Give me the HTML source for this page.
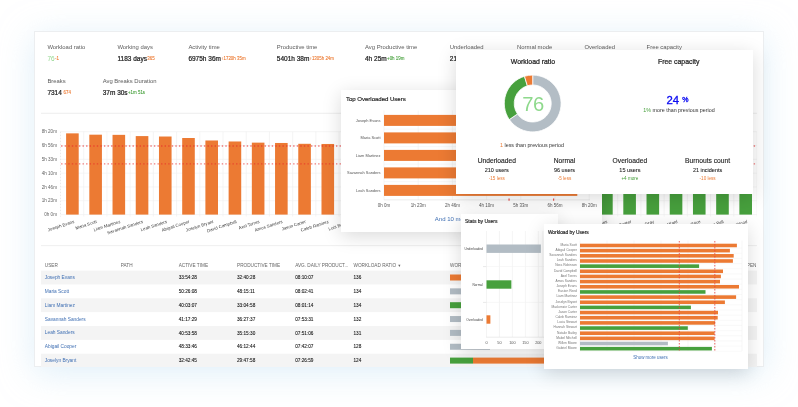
<!DOCTYPE html>
<html><head><meta charset="utf-8"><style>
*{margin:0;padding:0;box-sizing:border-box}
html,body{width:798px;height:407px;overflow:hidden;background:#fff}
body{position:relative;font-family:'Liberation Sans', Arial, sans-serif}
.t{position:absolute;white-space:nowrap}
.r{position:absolute}
.xl{font-size:4.4px;line-height:4.4px;color:#444;transform:rotate(-18deg);transform-origin:100% 0}
#panel{position:absolute;left:34px;top:31px;width:730px;height:336px;background:#fff;border:1px solid #eceef0;
  box-shadow:0 6px 32px rgba(196,226,244,0.55)}
.card{position:absolute;background:#fff;box-shadow:0 4px 18px rgba(0,0,0,0.15);overflow:hidden;will-change:transform}
.card .in{position:absolute}
</style></head><body>
<div id="panel"></div>
<div id="pc" style="position:absolute;left:0;top:0;width:798px;height:407px;clip-path:inset(31px 41px 40px 34px);will-change:transform">
<svg class="r" style="left:0;top:0" width="798" height="407" viewBox="0 0 798 407"><rect x="41.00" y="112.80" width="716.00" height="0.80" fill="#e8e8e8"/><line x1="60.50" y1="214.60" x2="757.00" y2="214.60" stroke="#efefef" stroke-width="0.6"/><line x1="60.50" y1="200.78" x2="757.00" y2="200.78" stroke="#efefef" stroke-width="0.6"/><line x1="60.50" y1="186.97" x2="757.00" y2="186.97" stroke="#efefef" stroke-width="0.6"/><line x1="60.50" y1="173.15" x2="757.00" y2="173.15" stroke="#efefef" stroke-width="0.6"/><line x1="60.50" y1="159.33" x2="757.00" y2="159.33" stroke="#efefef" stroke-width="0.6"/><line x1="60.50" y1="145.52" x2="757.00" y2="145.52" stroke="#efefef" stroke-width="0.6"/><line x1="60.50" y1="131.70" x2="757.00" y2="131.70" stroke="#efefef" stroke-width="0.6"/><line x1="83.72" y1="131.70" x2="83.72" y2="216.60" stroke="#efefef" stroke-width="0.6"/><line x1="106.93" y1="131.70" x2="106.93" y2="216.60" stroke="#efefef" stroke-width="0.6"/><line x1="130.15" y1="131.70" x2="130.15" y2="216.60" stroke="#efefef" stroke-width="0.6"/><line x1="153.37" y1="131.70" x2="153.37" y2="216.60" stroke="#efefef" stroke-width="0.6"/><line x1="176.58" y1="131.70" x2="176.58" y2="216.60" stroke="#efefef" stroke-width="0.6"/><line x1="199.80" y1="131.70" x2="199.80" y2="216.60" stroke="#efefef" stroke-width="0.6"/><line x1="223.02" y1="131.70" x2="223.02" y2="216.60" stroke="#efefef" stroke-width="0.6"/><line x1="246.24" y1="131.70" x2="246.24" y2="216.60" stroke="#efefef" stroke-width="0.6"/><line x1="269.45" y1="131.70" x2="269.45" y2="216.60" stroke="#efefef" stroke-width="0.6"/><line x1="292.67" y1="131.70" x2="292.67" y2="216.60" stroke="#efefef" stroke-width="0.6"/><line x1="315.89" y1="131.70" x2="315.89" y2="216.60" stroke="#efefef" stroke-width="0.6"/><line x1="339.10" y1="131.70" x2="339.10" y2="216.60" stroke="#efefef" stroke-width="0.6"/><line x1="362.32" y1="131.70" x2="362.32" y2="216.60" stroke="#efefef" stroke-width="0.6"/><line x1="385.54" y1="131.70" x2="385.54" y2="216.60" stroke="#efefef" stroke-width="0.6"/><line x1="408.75" y1="131.70" x2="408.75" y2="216.60" stroke="#efefef" stroke-width="0.6"/><line x1="431.97" y1="131.70" x2="431.97" y2="216.60" stroke="#efefef" stroke-width="0.6"/><line x1="455.19" y1="131.70" x2="455.19" y2="216.60" stroke="#efefef" stroke-width="0.6"/><line x1="478.41" y1="131.70" x2="478.41" y2="216.60" stroke="#efefef" stroke-width="0.6"/><line x1="501.62" y1="131.70" x2="501.62" y2="216.60" stroke="#efefef" stroke-width="0.6"/><line x1="524.84" y1="131.70" x2="524.84" y2="216.60" stroke="#efefef" stroke-width="0.6"/><line x1="548.06" y1="131.70" x2="548.06" y2="216.60" stroke="#efefef" stroke-width="0.6"/><line x1="571.27" y1="131.70" x2="571.27" y2="216.60" stroke="#efefef" stroke-width="0.6"/><line x1="594.49" y1="131.70" x2="594.49" y2="216.60" stroke="#efefef" stroke-width="0.6"/><line x1="617.71" y1="131.70" x2="617.71" y2="216.60" stroke="#efefef" stroke-width="0.6"/><line x1="640.92" y1="131.70" x2="640.92" y2="216.60" stroke="#efefef" stroke-width="0.6"/><line x1="664.14" y1="131.70" x2="664.14" y2="216.60" stroke="#efefef" stroke-width="0.6"/><line x1="687.36" y1="131.70" x2="687.36" y2="216.60" stroke="#efefef" stroke-width="0.6"/><line x1="710.58" y1="131.70" x2="710.58" y2="216.60" stroke="#efefef" stroke-width="0.6"/><line x1="733.79" y1="131.70" x2="733.79" y2="216.60" stroke="#efefef" stroke-width="0.6"/><line x1="757.01" y1="131.70" x2="757.01" y2="216.60" stroke="#efefef" stroke-width="0.6"/><line x1="60.50" y1="131.70" x2="60.50" y2="216.60" stroke="#dadada" stroke-width="0.6" stroke-dasharray="1.5 1.5"/><rect x="66.10" y="133.36" width="12.60" height="81.24" fill="#ec7a33"/><rect x="89.32" y="134.68" width="12.60" height="79.92" fill="#ec7a33"/><rect x="112.53" y="134.85" width="12.60" height="79.75" fill="#ec7a33"/><rect x="135.75" y="136.09" width="12.60" height="78.51" fill="#ec7a33"/><rect x="158.97" y="136.51" width="12.60" height="78.09" fill="#ec7a33"/><rect x="182.19" y="138.00" width="12.60" height="76.60" fill="#ec7a33"/><rect x="205.40" y="140.49" width="12.60" height="74.11" fill="#ec7a33"/><rect x="228.62" y="141.48" width="12.60" height="73.12" fill="#ec7a33"/><rect x="251.84" y="142.64" width="12.60" height="71.96" fill="#ec7a33"/><rect x="275.05" y="142.97" width="12.60" height="71.63" fill="#ec7a33"/><rect x="298.27" y="143.80" width="12.60" height="70.80" fill="#ec7a33"/><rect x="321.49" y="143.97" width="12.60" height="70.63" fill="#ec7a33"/><rect x="344.70" y="144.13" width="12.60" height="70.47" fill="#ec7a33"/><rect x="367.92" y="144.96" width="12.60" height="69.64" fill="#ec7a33"/><rect x="391.14" y="145.79" width="12.60" height="68.81" fill="#ec7a33"/><rect x="414.36" y="146.62" width="12.60" height="67.98" fill="#ec7a33"/><rect x="437.57" y="147.45" width="12.60" height="67.15" fill="#ec7a33"/><rect x="460.79" y="148.28" width="12.60" height="66.32" fill="#ec7a33"/><rect x="484.01" y="149.11" width="12.60" height="65.49" fill="#ec7a33"/><rect x="507.22" y="149.94" width="12.60" height="64.66" fill="#ec7a33"/><rect x="530.44" y="150.77" width="12.60" height="63.83" fill="#ec7a33"/><rect x="553.66" y="151.60" width="12.60" height="63.00" fill="#ec7a33"/><rect x="576.87" y="151.60" width="12.60" height="63.00" fill="#ec7a33"/><rect x="600.09" y="151.60" width="12.60" height="63.00" fill="#47a03d"/><rect x="623.31" y="151.60" width="12.60" height="63.00" fill="#47a03d"/><rect x="646.52" y="151.60" width="12.60" height="63.00" fill="#47a03d"/><rect x="669.74" y="151.60" width="12.60" height="63.00" fill="#47a03d"/><rect x="692.96" y="151.60" width="12.60" height="63.00" fill="#47a03d"/><rect x="716.18" y="151.60" width="12.60" height="63.00" fill="#47a03d"/><rect x="739.39" y="151.60" width="12.60" height="63.00" fill="#47a03d"/><line x1="61.10" y1="146.00" x2="758.00" y2="146.00" stroke="rgba(232,40,40,0.62)" stroke-width="1.4" stroke-dasharray="1.4 2.17"/><line x1="61.10" y1="163.90" x2="758.00" y2="163.90" stroke="rgba(232,40,40,0.62)" stroke-width="1.4" stroke-dasharray="1.4 2.17"/><rect x="41.00" y="245.30" width="716.00" height="0.80" fill="#ececec"/><rect x="41.00" y="270.60" width="716.00" height="13.85" fill="#f4f4f4"/><rect x="450.00" y="274.50" width="40.00" height="6.00" fill="#ec7a33"/><rect x="450.00" y="288.35" width="40.00" height="6.00" fill="#b2bcc4"/><rect x="41.00" y="298.30" width="716.00" height="13.85" fill="#f4f4f4"/><rect x="450.00" y="302.20" width="40.00" height="6.00" fill="#47a03d"/><rect x="450.00" y="316.05" width="40.00" height="6.00" fill="#b2bcc4"/><rect x="41.00" y="326.00" width="716.00" height="13.85" fill="#f4f4f4"/><rect x="450.00" y="329.90" width="40.00" height="6.00" fill="#b2bcc4"/><rect x="450.00" y="343.75" width="40.00" height="6.00" fill="#b2bcc4"/><rect x="41.00" y="353.70" width="716.00" height="13.85" fill="#f4f4f4"/><rect x="450.00" y="357.60" width="23.00" height="6.00" fill="#47a03d"/><rect x="473.00" y="357.60" width="260.00" height="6.00" fill="#ec7a33"/></svg><div class="t" style="top:45.21px;font-size:5.9px;line-height:5.9px;color:#5b5b5b;font-weight:normal;left:47.40px;">Workload ratio</div><div class="t" style="top:45.21px;font-size:5.9px;line-height:5.9px;color:#5b5b5b;font-weight:normal;left:117.40px;">Working days</div><div class="t" style="top:45.21px;font-size:5.9px;line-height:5.9px;color:#5b5b5b;font-weight:normal;left:188.40px;">Activity time</div><div class="t" style="top:45.21px;font-size:5.9px;line-height:5.9px;color:#5b5b5b;font-weight:normal;left:276.80px;">Productive time</div><div class="t" style="top:45.21px;font-size:5.9px;line-height:5.9px;color:#5b5b5b;font-weight:normal;left:365.00px;">Avg Productive time</div><div class="t" style="top:45.21px;font-size:5.9px;line-height:5.9px;color:#5b5b5b;font-weight:normal;left:449.80px;">Underloaded</div><div class="t" style="top:45.21px;font-size:5.9px;line-height:5.9px;color:#5b5b5b;font-weight:normal;left:517.00px;">Normal mode</div><div class="t" style="top:45.21px;font-size:5.9px;line-height:5.9px;color:#5b5b5b;font-weight:normal;left:584.50px;">Overloaded</div><div class="t" style="top:45.21px;font-size:5.9px;line-height:5.9px;color:#5b5b5b;font-weight:normal;left:646.60px;">Free capacity</div><div class="t" style="top:56.00px;font-size:6.5px;line-height:6.5px;color:#222;font-weight:normal;-webkit-text-stroke:0.22px currentColor;left:47.40px;"><span style="color:#93d68f;-webkit-text-stroke:0">76</span><span style="font-size:0.68em;font-weight:normal;-webkit-text-stroke:0.1px currentColor;color:#ec7a33;vertical-align:0.22em;margin-left:0.4px">-1</span></div><div class="t" style="top:56.00px;font-size:6.5px;line-height:6.5px;color:#222;font-weight:normal;-webkit-text-stroke:0.22px currentColor;left:117.40px;">1183 days<span style="font-size:0.68em;font-weight:normal;-webkit-text-stroke:0.1px currentColor;color:#ec7a33;vertical-align:0.22em;margin-left:0.4px">365</span></div><div class="t" style="top:56.00px;font-size:6.5px;line-height:6.5px;color:#222;font-weight:normal;-webkit-text-stroke:0.22px currentColor;left:188.40px;">6975h 36m<span style="font-size:0.68em;font-weight:normal;-webkit-text-stroke:0.1px currentColor;color:#ec7a33;vertical-align:0.22em;margin-left:0.4px">↑1720h 35m</span></div><div class="t" style="top:56.00px;font-size:6.5px;line-height:6.5px;color:#222;font-weight:normal;-webkit-text-stroke:0.22px currentColor;left:276.80px;">5401h 38m<span style="font-size:0.68em;font-weight:normal;-webkit-text-stroke:0.1px currentColor;color:#ec7a33;vertical-align:0.22em;margin-left:0.4px">↑1305h 24m</span></div><div class="t" style="top:56.00px;font-size:6.5px;line-height:6.5px;color:#222;font-weight:normal;-webkit-text-stroke:0.22px currentColor;left:365.00px;">4h 25m<span style="font-size:0.68em;font-weight:normal;-webkit-text-stroke:0.1px currentColor;color:#47a03d;vertical-align:0.22em;margin-left:0.4px">+0h 19m</span></div><div class="t" style="top:56.00px;font-size:6.5px;line-height:6.5px;color:#222;font-weight:normal;-webkit-text-stroke:0.22px currentColor;left:449.80px;">210 users</div><div class="t" style="top:56.00px;font-size:6.5px;line-height:6.5px;color:#222;font-weight:normal;-webkit-text-stroke:0.22px currentColor;left:517.00px;">96 users</div><div class="t" style="top:56.00px;font-size:6.5px;line-height:6.5px;color:#222;font-weight:normal;-webkit-text-stroke:0.22px currentColor;left:584.50px;">15 users</div><div class="t" style="top:56.00px;font-size:6.5px;line-height:6.5px;color:#222;font-weight:normal;-webkit-text-stroke:0.22px currentColor;left:646.60px;">24%</div><div class="t" style="top:78.61px;font-size:5.9px;line-height:5.9px;color:#5b5b5b;font-weight:normal;left:47.40px;">Breaks</div><div class="t" style="top:78.61px;font-size:5.9px;line-height:5.9px;color:#5b5b5b;font-weight:normal;left:102.70px;">Avg Breaks Duration</div><div class="t" style="top:90.00px;font-size:6.5px;line-height:6.5px;color:#222;font-weight:normal;-webkit-text-stroke:0.22px currentColor;left:47.40px;">7314&thinsp;<span style="font-size:0.68em;font-weight:normal;-webkit-text-stroke:0.1px currentColor;color:#ec7a33;vertical-align:0.22em;margin-left:0.4px">674</span></div><div class="t" style="top:90.00px;font-size:6.5px;line-height:6.5px;color:#222;font-weight:normal;-webkit-text-stroke:0.22px currentColor;left:102.70px;">37m 30s<span style="font-size:0.68em;font-weight:normal;-webkit-text-stroke:0.1px currentColor;color:#47a03d;vertical-align:0.22em;margin-left:0.4px">+1m 51s</span></div><div class="t" style="top:213.21px;font-size:4.6px;line-height:4.6px;color:#666;font-weight:normal;right:741.00px;text-align:right;">0h 0m</div><div class="t" style="top:199.39px;font-size:4.6px;line-height:4.6px;color:#666;font-weight:normal;right:741.00px;text-align:right;">1h 23m</div><div class="t" style="top:185.57px;font-size:4.6px;line-height:4.6px;color:#666;font-weight:normal;right:741.00px;text-align:right;">2h 46m</div><div class="t" style="top:171.76px;font-size:4.6px;line-height:4.6px;color:#666;font-weight:normal;right:741.00px;text-align:right;">4h 10m</div><div class="t" style="top:157.94px;font-size:4.6px;line-height:4.6px;color:#666;font-weight:normal;right:741.00px;text-align:right;">5h 33m</div><div class="t" style="top:144.12px;font-size:4.6px;line-height:4.6px;color:#666;font-weight:normal;right:741.00px;text-align:right;">6h 56m</div><div class="t" style="top:130.31px;font-size:4.6px;line-height:4.6px;color:#666;font-weight:normal;right:741.00px;text-align:right;">8h 20m</div><div class="t xl" style="right:724.90px;top:220.0px;">Joseph Evans</div><div class="t xl" style="right:701.68px;top:220.0px;">Maria Scott</div><div class="t xl" style="right:678.47px;top:220.0px;">Liam Martinez</div><div class="t xl" style="right:655.25px;top:220.0px;">Savannah Sanders</div><div class="t xl" style="right:632.03px;top:220.0px;">Leah Sanders</div><div class="t xl" style="right:608.81px;top:220.0px;">Abigail Cooper</div><div class="t xl" style="right:585.60px;top:220.0px;">Joselyn Bryant</div><div class="t xl" style="right:562.38px;top:220.0px;">David Campbell</div><div class="t xl" style="right:539.16px;top:220.0px;">Axel Torres</div><div class="t xl" style="right:515.95px;top:220.0px;">Amos Sanders</div><div class="t xl" style="right:492.73px;top:220.0px;">Jason Carter</div><div class="t xl" style="right:469.51px;top:220.0px;">Caleb Ramirez</div><div class="t xl" style="right:446.30px;top:220.0px;">Luis Bennett</div><div class="t xl" style="right:423.08px;top:220.0px;">Lucia Stewart</div><div class="t xl" style="right:399.86px;top:220.0px;">Natalie Bailey</div><div class="t xl" style="right:376.64px;top:220.0px;">Mabel Mitchell</div><div class="t xl" style="right:353.43px;top:220.0px;">Gabriel Moore</div><div class="t xl" style="right:330.21px;top:220.0px;">Nora Robinson</div><div class="t xl" style="right:306.99px;top:220.0px;">Easton Reed</div><div class="t xl" style="right:283.78px;top:220.0px;">Mackenzie Carter</div><div class="t xl" style="right:260.56px;top:220.0px;">Hannah Stewart</div><div class="t xl" style="right:237.34px;top:220.0px;">Willen Moore</div><div class="t xl" style="right:214.13px;top:220.0px;">Owen Parker</div><div class="t xl" style="right:190.91px;top:220.0px;">Ella Hughes</div><div class="t xl" style="right:167.69px;top:220.0px;">Mia Foster</div><div class="t xl" style="right:144.48px;top:220.0px;">Lucas Gray</div><div class="t xl" style="right:121.26px;top:220.0px;">Chloe Ward</div><div class="t xl" style="right:98.04px;top:220.0px;">Henry Price</div><div class="t xl" style="right:74.82px;top:220.0px;">Ava Bell</div><div class="t xl" style="right:51.61px;top:220.0px;">Jack Wood</div><div class="t" style="top:263.62px;font-size:4.7px;line-height:4.7px;color:#666;font-weight:normal;right:41.50px;text-align:right;">OPEN</div><div class="t" style="top:263.62px;font-size:4.7px;line-height:4.7px;color:#666;font-weight:normal;left:44.80px;">USER</div><div class="t" style="top:263.62px;font-size:4.7px;line-height:4.7px;color:#666;font-weight:normal;left:120.80px;">PATH</div><div class="t" style="top:263.62px;font-size:4.7px;line-height:4.7px;color:#666;font-weight:normal;left:178.70px;">ACTIVE TIME</div><div class="t" style="top:263.62px;font-size:4.7px;line-height:4.7px;color:#666;font-weight:normal;left:237.00px;">PRODUCTIVE TIME</div><div class="t" style="top:263.62px;font-size:4.7px;line-height:4.7px;color:#666;font-weight:normal;left:295.20px;">AVG. DAILY PRODUCT...</div><div class="t" style="top:263.62px;font-size:4.7px;line-height:4.7px;color:#666;font-weight:normal;left:353.50px;">WORKLOAD RATIO <span style="font-size:0.8em">▼</span></div><div class="t" style="top:263.62px;font-size:4.7px;line-height:4.7px;color:#666;font-weight:normal;left:450.00px;">WORKLOAD</div><div class="t" style="top:276.06px;font-size:4.8px;line-height:4.8px;color:#3f6fb3;font-weight:normal;left:44.80px;">Joseph Evans</div><div class="t" style="top:276.15px;font-size:4.7px;line-height:4.7px;color:#111;font-weight:normal;-webkit-text-stroke:0.08px currentColor;left:178.70px;">33:54:28</div><div class="t" style="top:276.15px;font-size:4.7px;line-height:4.7px;color:#111;font-weight:normal;-webkit-text-stroke:0.08px currentColor;left:237.00px;">32:40:28</div><div class="t" style="top:276.15px;font-size:4.7px;line-height:4.7px;color:#111;font-weight:normal;-webkit-text-stroke:0.08px currentColor;left:295.20px;">08:10:07</div><div class="t" style="top:276.15px;font-size:4.7px;line-height:4.7px;color:#111;font-weight:normal;-webkit-text-stroke:0.08px currentColor;left:353.50px;">136</div><div class="t" style="top:289.91px;font-size:4.8px;line-height:4.8px;color:#3f6fb3;font-weight:normal;left:44.80px;">Maria Scott</div><div class="t" style="top:290.00px;font-size:4.7px;line-height:4.7px;color:#111;font-weight:normal;-webkit-text-stroke:0.08px currentColor;left:178.70px;">50:26:08</div><div class="t" style="top:290.00px;font-size:4.7px;line-height:4.7px;color:#111;font-weight:normal;-webkit-text-stroke:0.08px currentColor;left:237.00px;">48:15:11</div><div class="t" style="top:290.00px;font-size:4.7px;line-height:4.7px;color:#111;font-weight:normal;-webkit-text-stroke:0.08px currentColor;left:295.20px;">08:02:41</div><div class="t" style="top:290.00px;font-size:4.7px;line-height:4.7px;color:#111;font-weight:normal;-webkit-text-stroke:0.08px currentColor;left:353.50px;">134</div><div class="t" style="top:303.76px;font-size:4.8px;line-height:4.8px;color:#3f6fb3;font-weight:normal;left:44.80px;">Liam Martinez</div><div class="t" style="top:303.85px;font-size:4.7px;line-height:4.7px;color:#111;font-weight:normal;-webkit-text-stroke:0.08px currentColor;left:178.70px;">40:03:07</div><div class="t" style="top:303.85px;font-size:4.7px;line-height:4.7px;color:#111;font-weight:normal;-webkit-text-stroke:0.08px currentColor;left:237.00px;">33:04:58</div><div class="t" style="top:303.85px;font-size:4.7px;line-height:4.7px;color:#111;font-weight:normal;-webkit-text-stroke:0.08px currentColor;left:295.20px;">08:01:14</div><div class="t" style="top:303.85px;font-size:4.7px;line-height:4.7px;color:#111;font-weight:normal;-webkit-text-stroke:0.08px currentColor;left:353.50px;">134</div><div class="t" style="top:317.61px;font-size:4.8px;line-height:4.8px;color:#3f6fb3;font-weight:normal;left:44.80px;">Savannah Sanders</div><div class="t" style="top:317.70px;font-size:4.7px;line-height:4.7px;color:#111;font-weight:normal;-webkit-text-stroke:0.08px currentColor;left:178.70px;">41:17:29</div><div class="t" style="top:317.70px;font-size:4.7px;line-height:4.7px;color:#111;font-weight:normal;-webkit-text-stroke:0.08px currentColor;left:237.00px;">36:27:37</div><div class="t" style="top:317.70px;font-size:4.7px;line-height:4.7px;color:#111;font-weight:normal;-webkit-text-stroke:0.08px currentColor;left:295.20px;">07:53:31</div><div class="t" style="top:317.70px;font-size:4.7px;line-height:4.7px;color:#111;font-weight:normal;-webkit-text-stroke:0.08px currentColor;left:353.50px;">132</div><div class="t" style="top:331.46px;font-size:4.8px;line-height:4.8px;color:#3f6fb3;font-weight:normal;left:44.80px;">Leah Sanders</div><div class="t" style="top:331.55px;font-size:4.7px;line-height:4.7px;color:#111;font-weight:normal;-webkit-text-stroke:0.08px currentColor;left:178.70px;">40:53:58</div><div class="t" style="top:331.55px;font-size:4.7px;line-height:4.7px;color:#111;font-weight:normal;-webkit-text-stroke:0.08px currentColor;left:237.00px;">35:15:30</div><div class="t" style="top:331.55px;font-size:4.7px;line-height:4.7px;color:#111;font-weight:normal;-webkit-text-stroke:0.08px currentColor;left:295.20px;">07:51:06</div><div class="t" style="top:331.55px;font-size:4.7px;line-height:4.7px;color:#111;font-weight:normal;-webkit-text-stroke:0.08px currentColor;left:353.50px;">131</div><div class="t" style="top:345.31px;font-size:4.8px;line-height:4.8px;color:#3f6fb3;font-weight:normal;left:44.80px;">Abigail Cooper</div><div class="t" style="top:345.40px;font-size:4.7px;line-height:4.7px;color:#111;font-weight:normal;-webkit-text-stroke:0.08px currentColor;left:178.70px;">48:33:46</div><div class="t" style="top:345.40px;font-size:4.7px;line-height:4.7px;color:#111;font-weight:normal;-webkit-text-stroke:0.08px currentColor;left:237.00px;">46:12:44</div><div class="t" style="top:345.40px;font-size:4.7px;line-height:4.7px;color:#111;font-weight:normal;-webkit-text-stroke:0.08px currentColor;left:295.20px;">07:42:07</div><div class="t" style="top:345.40px;font-size:4.7px;line-height:4.7px;color:#111;font-weight:normal;-webkit-text-stroke:0.08px currentColor;left:353.50px;">128</div><div class="t" style="top:359.16px;font-size:4.8px;line-height:4.8px;color:#3f6fb3;font-weight:normal;left:44.80px;">Joselyn Bryant</div><div class="t" style="top:359.25px;font-size:4.7px;line-height:4.7px;color:#111;font-weight:normal;-webkit-text-stroke:0.08px currentColor;left:178.70px;">32:42:45</div><div class="t" style="top:359.25px;font-size:4.7px;line-height:4.7px;color:#111;font-weight:normal;-webkit-text-stroke:0.08px currentColor;left:237.00px;">29:47:58</div><div class="t" style="top:359.25px;font-size:4.7px;line-height:4.7px;color:#111;font-weight:normal;-webkit-text-stroke:0.08px currentColor;left:295.20px;">07:26:59</div><div class="t" style="top:359.25px;font-size:4.7px;line-height:4.7px;color:#111;font-weight:normal;-webkit-text-stroke:0.08px currentColor;left:353.50px;">124</div>
</div>
<div class="card" style="left:341px;top:90px;width:261px;height:142px"><div class="in" style="left:-341px;top:-90px;width:798px;height:407px"><svg class="r" style="left:0;top:0" width="798" height="407" viewBox="0 0 798 407"><line x1="384.00" y1="110.50" x2="384.00" y2="200.00" stroke="#eeeeee" stroke-width="0.6"/><line x1="418.20" y1="110.50" x2="418.20" y2="200.00" stroke="#eeeeee" stroke-width="0.6"/><line x1="452.40" y1="110.50" x2="452.40" y2="200.00" stroke="#eeeeee" stroke-width="0.6"/><line x1="486.60" y1="110.50" x2="486.60" y2="200.00" stroke="#eeeeee" stroke-width="0.6"/><line x1="520.80" y1="110.50" x2="520.80" y2="200.00" stroke="#eeeeee" stroke-width="0.6"/><line x1="555.00" y1="110.50" x2="555.00" y2="200.00" stroke="#eeeeee" stroke-width="0.6"/><line x1="589.20" y1="110.50" x2="589.20" y2="200.00" stroke="#eeeeee" stroke-width="0.6"/><line x1="384.00" y1="199.90" x2="590.00" y2="199.90" stroke="#dddddd" stroke-width="0.6"/><rect x="384.00" y="114.90" width="201.10" height="11.00" fill="#ec7a33"/><line x1="384.00" y1="129.15" x2="590.00" y2="129.15" stroke="#eeeeee" stroke-width="0.5"/><rect x="384.00" y="132.40" width="197.81" height="11.00" fill="#ec7a33"/><line x1="384.00" y1="146.65" x2="590.00" y2="146.65" stroke="#eeeeee" stroke-width="0.5"/><rect x="384.00" y="149.90" width="197.40" height="11.00" fill="#ec7a33"/><line x1="384.00" y1="164.15" x2="590.00" y2="164.15" stroke="#eeeeee" stroke-width="0.5"/><rect x="384.00" y="167.40" width="194.32" height="11.00" fill="#ec7a33"/><line x1="384.00" y1="181.65" x2="590.00" y2="181.65" stroke="#eeeeee" stroke-width="0.5"/><rect x="384.00" y="184.90" width="193.30" height="11.00" fill="#ec7a33"/><rect x="508.50" y="198.50" width="1.10" height="2.20" fill="#e8413c"/><rect x="553.10" y="198.50" width="1.10" height="2.20" fill="#e8413c"/></svg><div class="t" style="top:96.34px;font-size:6.1px;line-height:6.1px;color:#222;font-weight:normal;-webkit-text-stroke:0.16px currentColor;letter-spacing:-0.05px;left:346.00px;">Top Overloaded Users</div><div class="t" style="top:204.19px;font-size:4.5px;line-height:4.5px;color:#555;font-weight:normal;left:84.00px;width:600px;text-align:center;">0h 0m</div><div class="t" style="top:204.19px;font-size:4.5px;line-height:4.5px;color:#555;font-weight:normal;left:118.20px;width:600px;text-align:center;">1h 23m</div><div class="t" style="top:204.19px;font-size:4.5px;line-height:4.5px;color:#555;font-weight:normal;left:152.40px;width:600px;text-align:center;">2h 46m</div><div class="t" style="top:204.19px;font-size:4.5px;line-height:4.5px;color:#555;font-weight:normal;left:186.60px;width:600px;text-align:center;">4h 10m</div><div class="t" style="top:204.19px;font-size:4.5px;line-height:4.5px;color:#555;font-weight:normal;left:220.80px;width:600px;text-align:center;">5h 33m</div><div class="t" style="top:204.19px;font-size:4.5px;line-height:4.5px;color:#555;font-weight:normal;left:255.00px;width:600px;text-align:center;">6h 56m</div><div class="t" style="top:204.19px;font-size:4.5px;line-height:4.5px;color:#555;font-weight:normal;left:289.20px;width:600px;text-align:center;">8h 20m</div><div class="t" style="top:118.66px;font-size:3.95px;line-height:3.95px;color:#555;font-weight:normal;right:417.50px;text-align:right;">Joseph Evans</div><div class="t" style="top:136.16px;font-size:3.95px;line-height:3.95px;color:#555;font-weight:normal;right:417.50px;text-align:right;">Maria Scott</div><div class="t" style="top:153.66px;font-size:3.95px;line-height:3.95px;color:#555;font-weight:normal;right:417.50px;text-align:right;">Liam Martinez</div><div class="t" style="top:171.16px;font-size:3.95px;line-height:3.95px;color:#555;font-weight:normal;right:417.50px;text-align:right;">Savannah Sanders</div><div class="t" style="top:188.66px;font-size:3.95px;line-height:3.95px;color:#555;font-weight:normal;right:417.50px;text-align:right;">Leah Sanders</div><div class="t" style="top:215.52px;font-size:6.0px;line-height:6.0px;color:#3f6fb3;font-weight:normal;left:152.00px;width:600px;text-align:center;">And 10 more</div></div></div>
<div class="card" style="left:456px;top:50px;width:297px;height:144px"><div class="in" style="left:-456px;top:-50px;width:798px;height:407px"><svg class="r" style="left:0;top:0" width="798" height="407" viewBox="0 0 798 407"><path d="M532.70,75.10 A28.4,28.4 0 1 1 509.29,119.59 L517.45,113.98 A18.5,18.5 0 1 0 532.70,85.00 Z" fill="#b3bdc5" stroke="#fff" stroke-width="0.8"/><path d="M509.29,119.59 A28.4,28.4 0 0 1 524.49,76.31 L527.35,85.79 A18.5,18.5 0 0 0 517.45,113.98 Z" fill="#47a03d" stroke="#fff" stroke-width="0.8"/><path d="M524.49,76.31 A28.4,28.4 0 0 1 532.70,75.10 L532.70,85.00 A18.5,18.5 0 0 0 527.35,85.79 Z" fill="#ec7a33" stroke="#fff" stroke-width="0.8"/></svg><div class="t" style="top:59.16px;font-size:6.9px;line-height:6.9px;color:#222;font-weight:normal;-webkit-text-stroke:0.22px currentColor;left:233.00px;width:600px;text-align:center;">Workload ratio</div><div class="t" style="top:59.16px;font-size:6.9px;line-height:6.9px;color:#222;font-weight:normal;-webkit-text-stroke:0.22px currentColor;left:378.70px;width:600px;text-align:center;">Free capacity</div><div class="t" style="top:93.50px;font-size:20.2px;line-height:20.2px;color:#8ed98c;font-weight:normal;letter-spacing:-0.4px;left:233.10px;width:600px;text-align:center;">76</div><div class="t" style="top:142.97px;font-size:5.35px;line-height:5.35px;color:#333;font-weight:normal;left:232.00px;width:600px;text-align:center;"><span style="color:#ec7a33">1</span> less than previous period</div><div class="t" style="top:94.33px;font-size:11.3px;line-height:11.3px;color:#0d0df2;font-weight:normal;-webkit-text-stroke:0.35px currentColor;left:377.50px;width:600px;text-align:center;">24 <span style="font-size:0.62em;vertical-align:0.3em">%</span></div><div class="t" style="top:108.07px;font-size:5.35px;line-height:5.35px;color:#333;font-weight:normal;left:379.00px;width:600px;text-align:center;"><span style="color:#47a03d">1%</span> more than previous period</div><div class="t" style="top:158.33px;font-size:6.7px;line-height:6.7px;color:#222;font-weight:normal;-webkit-text-stroke:0.12px currentColor;left:196.80px;width:600px;text-align:center;">Underloaded</div><div class="t" style="top:167.74px;font-size:5.5px;line-height:5.5px;color:#222;font-weight:normal;-webkit-text-stroke:0.08px currentColor;left:196.80px;width:600px;text-align:center;">210 users</div><div class="t" style="top:176.91px;font-size:4.6px;line-height:4.6px;color:#ec7a33;font-weight:normal;left:196.80px;width:600px;text-align:center;">-15 less</div><div class="t" style="top:158.33px;font-size:6.7px;line-height:6.7px;color:#222;font-weight:normal;-webkit-text-stroke:0.12px currentColor;left:264.50px;width:600px;text-align:center;">Normal</div><div class="t" style="top:167.74px;font-size:5.5px;line-height:5.5px;color:#222;font-weight:normal;-webkit-text-stroke:0.08px currentColor;left:264.50px;width:600px;text-align:center;">96 users</div><div class="t" style="top:176.91px;font-size:4.6px;line-height:4.6px;color:#ec7a33;font-weight:normal;left:264.50px;width:600px;text-align:center;">-5 less</div><div class="t" style="top:158.33px;font-size:6.7px;line-height:6.7px;color:#222;font-weight:normal;-webkit-text-stroke:0.12px currentColor;left:329.90px;width:600px;text-align:center;">Overloaded</div><div class="t" style="top:167.74px;font-size:5.5px;line-height:5.5px;color:#222;font-weight:normal;-webkit-text-stroke:0.08px currentColor;left:329.90px;width:600px;text-align:center;">15 users</div><div class="t" style="top:176.91px;font-size:4.6px;line-height:4.6px;color:#47a03d;font-weight:normal;left:329.90px;width:600px;text-align:center;">+4 more</div><div class="t" style="top:158.33px;font-size:6.7px;line-height:6.7px;color:#222;font-weight:normal;-webkit-text-stroke:0.12px currentColor;left:407.60px;width:600px;text-align:center;">Burnouts count</div><div class="t" style="top:167.74px;font-size:5.5px;line-height:5.5px;color:#222;font-weight:normal;-webkit-text-stroke:0.08px currentColor;left:407.60px;width:600px;text-align:center;">21 incidents</div><div class="t" style="top:176.91px;font-size:4.6px;line-height:4.6px;color:#ec7a33;font-weight:normal;left:407.60px;width:600px;text-align:center;">-10 less</div></div></div>
<div class="card" style="left:461px;top:214px;width:97px;height:135px"><div class="in" style="left:-461px;top:-214px;width:798px;height:407px"><svg class="r" style="left:0;top:0" width="798" height="407" viewBox="0 0 798 407"><line x1="486.50" y1="231.00" x2="486.50" y2="337.00" stroke="#ececec" stroke-width="0.6"/><line x1="499.45" y1="231.00" x2="499.45" y2="337.00" stroke="#ececec" stroke-width="0.6"/><line x1="512.40" y1="231.00" x2="512.40" y2="337.00" stroke="#ececec" stroke-width="0.6"/><line x1="525.35" y1="231.00" x2="525.35" y2="337.00" stroke="#ececec" stroke-width="0.6"/><line x1="538.30" y1="231.00" x2="538.30" y2="337.00" stroke="#ececec" stroke-width="0.6"/><line x1="486.00" y1="337.20" x2="556.00" y2="337.20" stroke="#e0e0e0" stroke-width="0.6"/><line x1="542.80" y1="231.00" x2="542.80" y2="337.00" stroke="#ececec" stroke-width="0.6"/><line x1="483.00" y1="266.60" x2="486.50" y2="266.60" stroke="#d8d8d8" stroke-width="0.6"/><line x1="486.50" y1="266.60" x2="558.00" y2="266.60" stroke="#f1f1f1" stroke-width="0.6"/><line x1="483.00" y1="302.40" x2="486.50" y2="302.40" stroke="#d8d8d8" stroke-width="0.6"/><line x1="486.50" y1="302.40" x2="558.00" y2="302.40" stroke="#f1f1f1" stroke-width="0.6"/><rect x="486.50" y="244.50" width="54.39" height="8.40" fill="#b2bcc4"/><rect x="486.50" y="280.30" width="24.86" height="8.40" fill="#47a03d"/><rect x="486.50" y="315.30" width="3.88" height="8.40" fill="#ec7a33"/></svg><div class="t" style="top:219.07px;font-size:5.0px;line-height:5.0px;color:#222;font-weight:normal;-webkit-text-stroke:0.16px currentColor;left:465.00px;">Stats by Users</div><div class="t" style="top:341.78px;font-size:3.8px;line-height:3.8px;color:#555;font-weight:normal;left:186.50px;width:600px;text-align:center;">0</div><div class="t" style="top:341.78px;font-size:3.8px;line-height:3.8px;color:#555;font-weight:normal;left:199.45px;width:600px;text-align:center;">50</div><div class="t" style="top:341.78px;font-size:3.8px;line-height:3.8px;color:#555;font-weight:normal;left:212.40px;width:600px;text-align:center;">100</div><div class="t" style="top:341.78px;font-size:3.8px;line-height:3.8px;color:#555;font-weight:normal;left:225.35px;width:600px;text-align:center;">150</div><div class="t" style="top:341.78px;font-size:3.8px;line-height:3.8px;color:#555;font-weight:normal;left:238.30px;width:600px;text-align:center;">200</div><div class="t" style="top:248.19px;font-size:3.2px;line-height:3.2px;color:#444;font-weight:normal;right:315.20px;text-align:right;">Underloaded</div><div class="t" style="top:283.99px;font-size:3.2px;line-height:3.2px;color:#444;font-weight:normal;right:315.20px;text-align:right;">Normal</div><div class="t" style="top:318.99px;font-size:3.2px;line-height:3.2px;color:#444;font-weight:normal;right:315.20px;text-align:right;">Overloaded</div></div></div>
<div class="card" style="left:544px;top:224px;width:204px;height:145px"><div class="in" style="left:-544px;top:-224px;width:798px;height:407px"><svg class="r" style="left:0;top:0" width="798" height="407" viewBox="0 0 798 407"><line x1="580.00" y1="240.50" x2="580.00" y2="351.00" stroke="#eeeeee" stroke-width="0.5"/><line x1="607.00" y1="240.50" x2="607.00" y2="351.00" stroke="#eeeeee" stroke-width="0.5"/><line x1="634.00" y1="240.50" x2="634.00" y2="351.00" stroke="#eeeeee" stroke-width="0.5"/><line x1="661.00" y1="240.50" x2="661.00" y2="351.00" stroke="#eeeeee" stroke-width="0.5"/><line x1="688.00" y1="240.50" x2="688.00" y2="351.00" stroke="#eeeeee" stroke-width="0.5"/><line x1="715.00" y1="240.50" x2="715.00" y2="351.00" stroke="#eeeeee" stroke-width="0.5"/><line x1="742.00" y1="240.50" x2="742.00" y2="351.00" stroke="#eeeeee" stroke-width="0.5"/><rect x="580.00" y="243.70" width="156.90" height="3.60" fill="#ec7a33"/><line x1="580.00" y1="248.08" x2="742.00" y2="248.08" stroke="#f0f0f0" stroke-width="0.4"/><rect x="580.00" y="248.86" width="149.90" height="3.60" fill="#ec7a33"/><line x1="580.00" y1="253.24" x2="742.00" y2="253.24" stroke="#f0f0f0" stroke-width="0.4"/><rect x="580.00" y="254.02" width="153.70" height="3.60" fill="#ec7a33"/><line x1="580.00" y1="258.40" x2="742.00" y2="258.40" stroke="#f0f0f0" stroke-width="0.4"/><rect x="580.00" y="259.18" width="152.90" height="3.60" fill="#ec7a33"/><line x1="580.00" y1="263.56" x2="742.00" y2="263.56" stroke="#f0f0f0" stroke-width="0.4"/><rect x="580.00" y="264.34" width="119.10" height="3.60" fill="#47a03d"/><line x1="580.00" y1="268.72" x2="742.00" y2="268.72" stroke="#f0f0f0" stroke-width="0.4"/><rect x="580.00" y="269.50" width="143.00" height="3.60" fill="#ec7a33"/><line x1="580.00" y1="273.88" x2="742.00" y2="273.88" stroke="#f0f0f0" stroke-width="0.4"/><rect x="580.00" y="274.66" width="140.90" height="3.60" fill="#ec7a33"/><line x1="580.00" y1="279.04" x2="742.00" y2="279.04" stroke="#f0f0f0" stroke-width="0.4"/><rect x="580.00" y="279.82" width="140.00" height="3.60" fill="#ec7a33"/><line x1="580.00" y1="284.20" x2="742.00" y2="284.20" stroke="#f0f0f0" stroke-width="0.4"/><rect x="580.00" y="284.98" width="159.00" height="3.60" fill="#ec7a33"/><line x1="580.00" y1="289.36" x2="742.00" y2="289.36" stroke="#f0f0f0" stroke-width="0.4"/><rect x="580.00" y="290.14" width="125.50" height="3.60" fill="#47a03d"/><line x1="580.00" y1="294.52" x2="742.00" y2="294.52" stroke="#f0f0f0" stroke-width="0.4"/><rect x="580.00" y="295.30" width="156.10" height="3.60" fill="#ec7a33"/><line x1="580.00" y1="299.68" x2="742.00" y2="299.68" stroke="#f0f0f0" stroke-width="0.4"/><rect x="580.00" y="300.46" width="144.90" height="3.60" fill="#ec7a33"/><line x1="580.00" y1="304.84" x2="742.00" y2="304.84" stroke="#f0f0f0" stroke-width="0.4"/><rect x="580.00" y="305.62" width="110.90" height="3.60" fill="#47a03d"/><line x1="580.00" y1="310.00" x2="742.00" y2="310.00" stroke="#f0f0f0" stroke-width="0.4"/><rect x="580.00" y="310.78" width="138.00" height="3.60" fill="#ec7a33"/><line x1="580.00" y1="315.16" x2="742.00" y2="315.16" stroke="#f0f0f0" stroke-width="0.4"/><rect x="580.00" y="315.94" width="137.70" height="3.60" fill="#ec7a33"/><line x1="580.00" y1="320.32" x2="742.00" y2="320.32" stroke="#f0f0f0" stroke-width="0.4"/><rect x="580.00" y="321.10" width="135.10" height="3.60" fill="#ec7a33"/><line x1="580.00" y1="325.48" x2="742.00" y2="325.48" stroke="#f0f0f0" stroke-width="0.4"/><rect x="580.00" y="326.26" width="107.80" height="3.60" fill="#47a03d"/><line x1="580.00" y1="330.64" x2="742.00" y2="330.64" stroke="#f0f0f0" stroke-width="0.4"/><rect x="580.00" y="331.42" width="134.60" height="3.60" fill="#ec7a33"/><line x1="580.00" y1="335.80" x2="742.00" y2="335.80" stroke="#f0f0f0" stroke-width="0.4"/><rect x="580.00" y="336.58" width="134.60" height="3.60" fill="#ec7a33"/><line x1="580.00" y1="340.96" x2="742.00" y2="340.96" stroke="#f0f0f0" stroke-width="0.4"/><rect x="580.00" y="341.74" width="87.90" height="3.60" fill="#b2bcc4"/><line x1="580.00" y1="346.12" x2="742.00" y2="346.12" stroke="#f0f0f0" stroke-width="0.4"/><rect x="580.00" y="346.90" width="131.90" height="3.60" fill="#47a03d"/><line x1="580.00" y1="351.28" x2="742.00" y2="351.28" stroke="#f0f0f0" stroke-width="0.4"/><line x1="679.30" y1="241.00" x2="679.30" y2="351.00" stroke="#e8413c" stroke-width="0.8" stroke-dasharray="1.5 1.5"/><line x1="714.80" y1="241.00" x2="714.80" y2="351.00" stroke="#e8413c" stroke-width="0.8" stroke-dasharray="1.5 1.5"/></svg><div class="t" style="top:231.29px;font-size:4.85px;line-height:4.85px;color:#222;font-weight:normal;-webkit-text-stroke:0.16px currentColor;left:547.90px;">Workload by Users</div><div class="t" style="top:243.85px;font-size:3.25px;line-height:3.25px;color:#777;font-weight:normal;right:221.10px;text-align:right;">Maria Scott</div><div class="t" style="top:249.01px;font-size:3.25px;line-height:3.25px;color:#777;font-weight:normal;right:221.10px;text-align:right;">Abigail Cooper</div><div class="t" style="top:254.17px;font-size:3.25px;line-height:3.25px;color:#777;font-weight:normal;right:221.10px;text-align:right;">Savannah Sanders</div><div class="t" style="top:259.33px;font-size:3.25px;line-height:3.25px;color:#777;font-weight:normal;right:221.10px;text-align:right;">Leah Sanders</div><div class="t" style="top:264.49px;font-size:3.25px;line-height:3.25px;color:#777;font-weight:normal;right:221.10px;text-align:right;">Nora Robinson</div><div class="t" style="top:269.65px;font-size:3.25px;line-height:3.25px;color:#777;font-weight:normal;right:221.10px;text-align:right;">David Campbell</div><div class="t" style="top:274.81px;font-size:3.25px;line-height:3.25px;color:#777;font-weight:normal;right:221.10px;text-align:right;">Axel Torres</div><div class="t" style="top:279.97px;font-size:3.25px;line-height:3.25px;color:#777;font-weight:normal;right:221.10px;text-align:right;">Amos Sanders</div><div class="t" style="top:285.13px;font-size:3.25px;line-height:3.25px;color:#777;font-weight:normal;right:221.10px;text-align:right;">Joseph Evans</div><div class="t" style="top:290.29px;font-size:3.25px;line-height:3.25px;color:#777;font-weight:normal;right:221.10px;text-align:right;">Easton Reed</div><div class="t" style="top:295.45px;font-size:3.25px;line-height:3.25px;color:#777;font-weight:normal;right:221.10px;text-align:right;">Liam Martinez</div><div class="t" style="top:300.61px;font-size:3.25px;line-height:3.25px;color:#777;font-weight:normal;right:221.10px;text-align:right;">Joselyn Bryant</div><div class="t" style="top:305.77px;font-size:3.25px;line-height:3.25px;color:#777;font-weight:normal;right:221.10px;text-align:right;">Mackenzie Carter</div><div class="t" style="top:310.93px;font-size:3.25px;line-height:3.25px;color:#777;font-weight:normal;right:221.10px;text-align:right;">Jason Carter</div><div class="t" style="top:316.09px;font-size:3.25px;line-height:3.25px;color:#777;font-weight:normal;right:221.10px;text-align:right;">Caleb Ramirez</div><div class="t" style="top:321.25px;font-size:3.25px;line-height:3.25px;color:#777;font-weight:normal;right:221.10px;text-align:right;">Lucia Stewart</div><div class="t" style="top:326.41px;font-size:3.25px;line-height:3.25px;color:#777;font-weight:normal;right:221.10px;text-align:right;">Hannah Stewart</div><div class="t" style="top:331.57px;font-size:3.25px;line-height:3.25px;color:#777;font-weight:normal;right:221.10px;text-align:right;">Natalie Bailey</div><div class="t" style="top:336.73px;font-size:3.25px;line-height:3.25px;color:#777;font-weight:normal;right:221.10px;text-align:right;">Mabel Mitchell</div><div class="t" style="top:341.89px;font-size:3.25px;line-height:3.25px;color:#777;font-weight:normal;right:221.10px;text-align:right;">Willen Moore</div><div class="t" style="top:347.05px;font-size:3.25px;line-height:3.25px;color:#777;font-weight:normal;right:221.10px;text-align:right;">Gabriel Moore</div><div class="t" style="top:356.23px;font-size:4.45px;line-height:4.45px;color:#3f6fb3;font-weight:normal;left:350.50px;width:600px;text-align:center;">Show more users</div></div></div>
</body></html>
